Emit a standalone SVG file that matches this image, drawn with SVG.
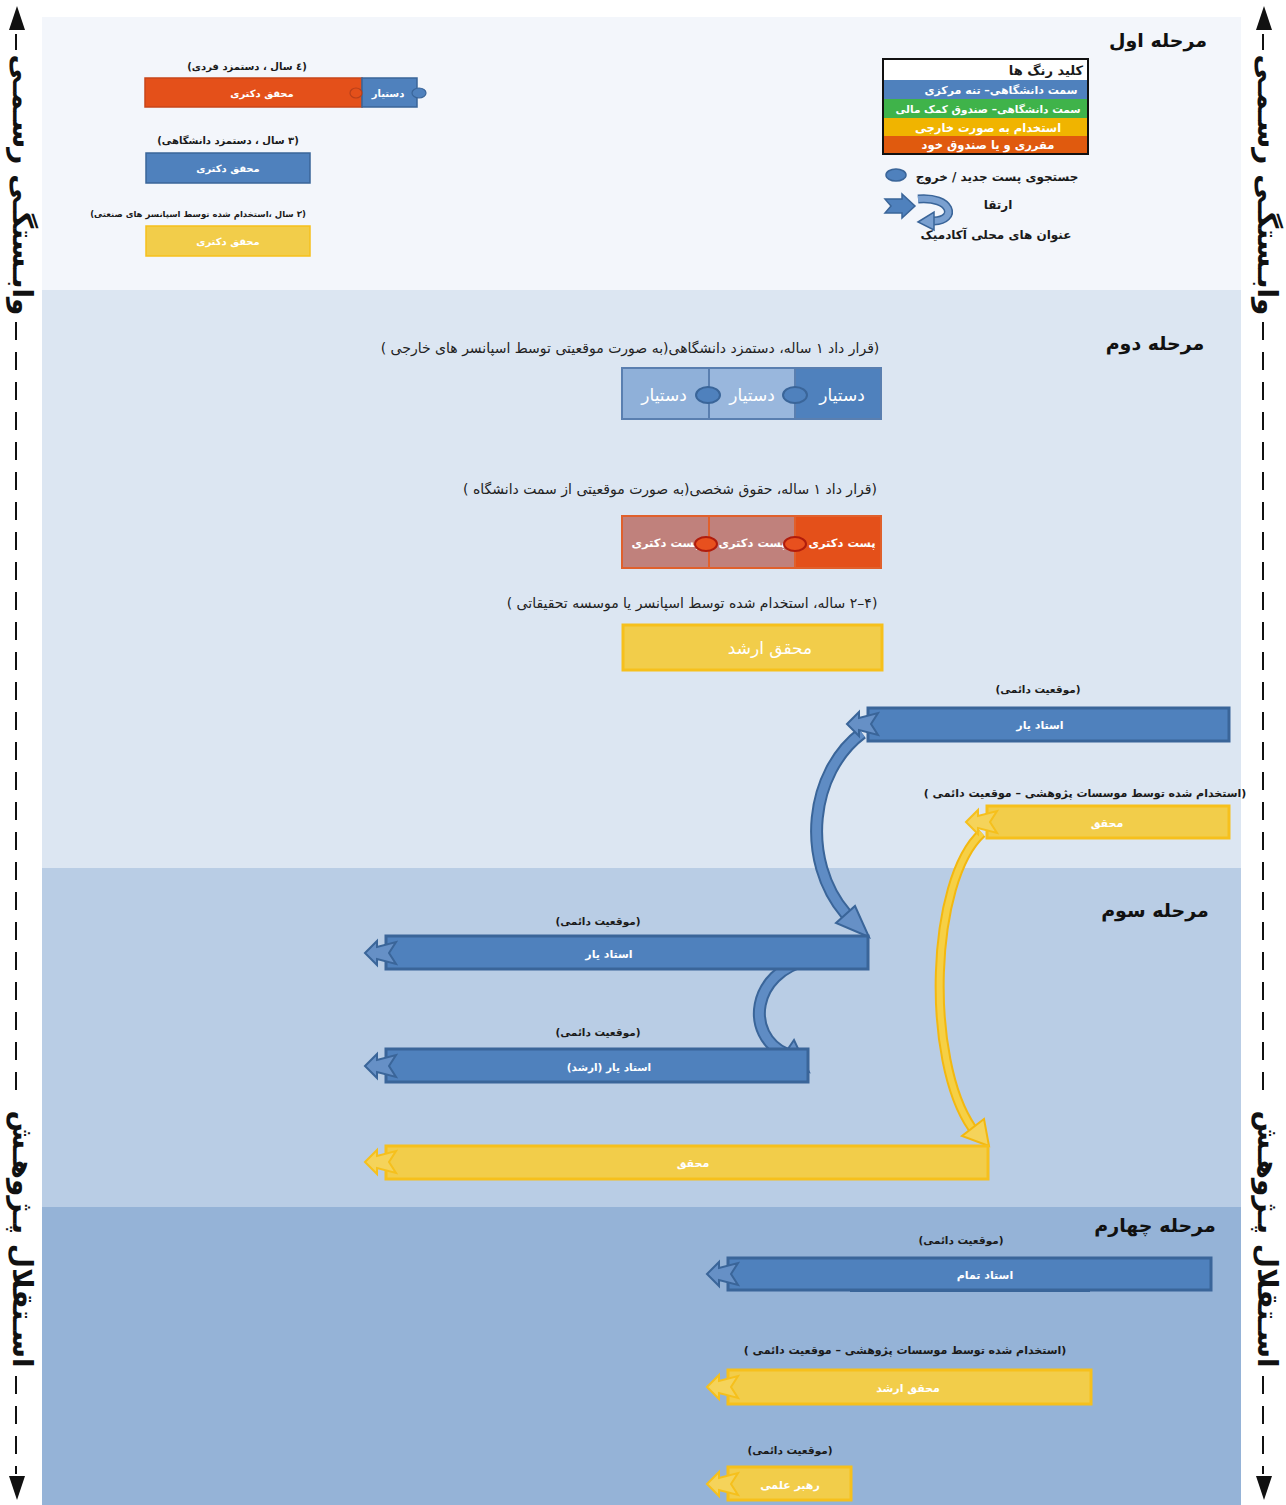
<svg xmlns="http://www.w3.org/2000/svg" width="1286" height="1505" viewBox="0 0 1286 1505">
<style>
text{font-family:"DejaVu Sans","Noto Sans",sans-serif;direction:rtl;text-anchor:middle}
.lb{font-weight:bold;font-size:10px;fill:#1a1a1a}
.lb2{font-size:14px;fill:#222}
.st{font-weight:bold;font-size:19px;fill:#111}
.wt{font-weight:bold;font-size:10px;fill:#fff}
.wt2{font-size:17px;fill:#fff}
.side{font-weight:bold;font-size:28px;fill:#111;dominant-baseline:central}
.bb{fill:#4f81bd;stroke:#3a6599;stroke-width:3}
.yb{fill:#f2cd4a;stroke:#f6c01c;stroke-width:3}
.dash{stroke:#111;stroke-width:2;stroke-dasharray:18 12;fill:none}
</style>
<defs>
<polygon id="ahB" points="-21,0 -9,-12 -9,-6 10,-11 3,0 10,11 -9,6 -9,12" fill="#6690c6" stroke="#3a6599" stroke-width="2"/>
<polygon id="ahY" points="-21,0 -9,-12 -9,-6 10,-11 3,0 10,11 -9,6 -9,12" fill="#f5d35a" stroke="#f6c01c" stroke-width="2"/>
</defs>
<rect width="1286" height="1505" fill="#ffffff"/>
<g id="panels">
<rect x="42" y="17" width="1199" height="273" fill="#f3f6fb"/>
<rect x="42" y="290" width="1199" height="578" fill="#dce6f2"/>
<rect x="42" y="868" width="1199" height="339" fill="#b9cde5"/>
<rect x="42" y="1207" width="1199" height="298" fill="#95b3d7"/>
</g>
<g id="side-left">
<polygon points="17,6 9,30 25,30" fill="#111"/>
<line class="dash" x1="16" y1="34" x2="16" y2="50"/>
<text class="side" transform="translate(22,185) rotate(90)">وابـستگـی رسـمـی</text>
<line class="dash" x1="16" y1="322" x2="16" y2="1098"/>
<text class="side" transform="translate(22,1239) rotate(90)">اسـتقلال پـژوهـش</text>
<line class="dash" x1="16" y1="1376" x2="16" y2="1474"/>
<polygon points="17,1500 9,1476 25,1476" fill="#111"/>
</g>
<g id="side-right">
<polygon points="1264,6 1256,30 1272,30" fill="#111"/>
<line class="dash" x1="1263" y1="34" x2="1263" y2="50"/>
<text class="side" transform="translate(1267,185) rotate(90)">وابـستگـی رسـمـی</text>
<line class="dash" x1="1263" y1="322" x2="1263" y2="1098"/>
<text class="side" transform="translate(1267,1239) rotate(90)">اسـتقلال پـژوهـش</text>
<line class="dash" x1="1263" y1="1376" x2="1263" y2="1474"/>
<polygon points="1264,1500 1256,1476 1272,1476" fill="#111"/>
</g>
<g id="stage-titles">
<text class="st" x="1158" y="47">مرحله اول</text>
<text class="st" x="1155" y="350">مرحله دوم</text>
<text class="st" x="1155" y="917">مرحله سوم</text>
<text class="st" x="1155" y="1232">مرحله چهارم</text>
</g>
<g id="connectors">
<path d="M862,733 C810,772 800,860 846,914" fill="none" stroke="#3a6599" stroke-width="13"/>
<path d="M862,733 C810,772 800,860 846,914" fill="none" stroke="#5f8cc4" stroke-width="9"/>
<polygon points="869,937 836,923 855,906" fill="#6690c6" stroke="#3a6599" stroke-width="2"/>
<path d="M808,960 C752,972 744,1035 786,1054" fill="none" stroke="#3a6599" stroke-width="13"/>
<path d="M808,960 C752,972 744,1035 786,1054" fill="none" stroke="#5f8cc4" stroke-width="9"/>
<polygon points="809,1072 777,1065 794,1040" fill="#6690c6" stroke="#3a6599" stroke-width="2"/>
<path d="M982,833 C930,880 925,1060 972,1128" fill="none" stroke="#f3b810" stroke-width="10"/>
<path d="M982,833 C930,880 925,1060 972,1128" fill="none" stroke="#f6d045" stroke-width="6"/>
<polygon points="989,1146 962,1136 984,1119" fill="#f5d35a" stroke="#f3b810" stroke-width="2"/>
</g>
<g id="s1-a">
<text class="lb" x="247" y="70">(٤ سال ، دستمزد فردی)</text>
<rect x="145" y="78" width="217" height="29" fill="#e4501a" stroke="#c8451a" stroke-width="1.5"/>
<text class="wt" x="262" y="97">محقق دکتری</text>
<rect x="362" y="78" width="55" height="29" fill="#4f81bd" stroke="#3a6599" stroke-width="1.5"/>
<text class="wt" x="388" y="97">دستیار</text>
<ellipse cx="356" cy="93" rx="6" ry="5" fill="#e4501a" stroke="#b8401a" stroke-width="1.2"/>
<ellipse cx="419" cy="93" rx="7" ry="5" fill="#4f81bd" stroke="#3a6599" stroke-width="1.2"/>
</g>
<g id="s1-b">
<text class="lb" x="228" y="144">(٣ سال ، دستمزد دانشگاهی)</text>
<rect x="146" y="153" width="164" height="30" fill="#4f81bd" stroke="#3a6599" stroke-width="1.5"/>
<text class="wt" x="228" y="172">محقق دکتری</text>
</g>
<g id="s1-c">
<text class="lb" x="198" y="217" style="font-size:8.5px">(٣ سال ،استخدام شده توسط اسپانسر های صنعتی)</text>
<rect x="146" y="226" width="164" height="30" fill="#f2cd4a" stroke="#f6c01c" stroke-width="1.5"/>
<text class="wt" x="228" y="245">محقق دکتری</text>
</g>
<g id="legend">
<rect x="883" y="59" width="205" height="95" fill="#fff"/>
<rect x="883" y="80" width="205" height="19" fill="#4f81bd"/>
<rect x="883" y="99" width="205" height="19" fill="#3fb34a"/>
<rect x="883" y="118" width="205" height="18" fill="#f0b400"/>
<rect x="883" y="136" width="205" height="18" fill="#e05a0e"/>
<rect x="883" y="59" width="205" height="95" fill="none" stroke="#111" stroke-width="2"/>
<text class="lb" x="1046" y="75" style="font-size:13px">کلید رنگ ها</text>
<text class="wt" x="1001" y="94" style="font-size:11px">سمت دانشگاهی– تنه مرکزی</text>
<text class="wt" x="988" y="113" style="font-size:10.5px">سمت دانشگاهی– صندوق کمک مالی</text>
<text class="wt" x="988" y="132" style="font-size:11.5px">استخدام به صورت خارجی</text>
<text class="wt" x="988" y="149" style="font-size:11.5px">مقرری و یا صندوق خود</text>
<ellipse cx="896" cy="175" rx="10" ry="6" fill="#4f81bd" stroke="#3a6599" stroke-width="1.5"/>
<text class="lb" x="997" y="181" style="font-size:12px">جستجوی پست جدید / خروج</text>
<polygon points="885,199 902,199 902,194 915,206 902,218 902,213 885,213 891,206" fill="#4f81bd" stroke="#3a6599" stroke-width="1.5"/>
<path d="M918,199 C952,196 958,220 934,221" fill="none" stroke="#3a6599" stroke-width="9"/>
<path d="M918,199 C952,196 958,220 934,221" fill="none" stroke="#7aa0d0" stroke-width="6"/>
<polygon points="918,222 934,212 934,230" fill="#7aa0d0" stroke="#3a6599" stroke-width="1.5"/>
<text class="lb" x="998" y="209" style="font-size:12px">ارتقا</text>
<text class="lb" x="996" y="239" style="font-size:12px">عنوان های محلی آکادمیک</text>
</g>
<g id="s2-a">
<text class="lb2" x="630" y="353">(قرار داد ۱ ساله، دستمزد دانشگاهی(به صورت موقعیتی توسط اسپانسر های خارجی )</text>
<rect x="622" y="368" width="87" height="51" fill="#8fb0d9" stroke="#5a7fb0" stroke-width="2"/>
<rect x="709" y="368" width="86" height="51" fill="#99b7dd" stroke="#5a7fb0" stroke-width="2"/>
<rect x="795" y="368" width="86" height="51" fill="#4f81bd" stroke="#5a7fb0" stroke-width="2"/>
<text class="wt2" x="664" y="401">دستیار</text>
<text class="wt2" x="752" y="401">دستیار</text>
<text class="wt2" x="842" y="401">دستیار</text>
<ellipse cx="708" cy="395" rx="12" ry="8" fill="#4f81bd" stroke="#3a6599" stroke-width="2"/>
<ellipse cx="795" cy="395" rx="12" ry="8" fill="#4f81bd" stroke="#3a6599" stroke-width="2"/>
</g>
<g id="s2-b">
<text class="lb2" x="670" y="494">(قرار داد ۱ ساله، حقوق شخصی(به صورت موقعیتی از سمت دانشگاه )</text>
<rect x="622" y="516" width="87" height="52" fill="#c0817c" stroke="#e0602c" stroke-width="2"/>
<rect x="709" y="516" width="86" height="52" fill="#c0817c" stroke="#e0602c" stroke-width="2"/>
<rect x="795" y="516" width="86" height="52" fill="#e4501a" stroke="#e0602c" stroke-width="2"/>
<text class="wt" x="665" y="547" style="font-size:11.5px">پست دکتری</text>
<text class="wt" x="752" y="547" style="font-size:11.5px">پست دکتری</text>
<text class="wt" x="842" y="547" style="font-size:11.5px">پست دکتری</text>
<ellipse cx="706" cy="544" rx="11" ry="7" fill="#e8501e" stroke="#b01c0c" stroke-width="2"/>
<ellipse cx="795" cy="544" rx="11" ry="7" fill="#e8501e" stroke="#b01c0c" stroke-width="2"/>
</g>
<g id="s2-c">
<text class="lb2" x="692" y="608">(۴–۲ ساله، استخدام شده توسط اسپانسر یا موسسه تحقیقاتی )</text>
<rect x="623" y="625" width="259" height="45" class="yb" stroke-width="2"/>
<text class="wt2" x="770" y="654">محقق ارشد</text>
</g>
<g id="s2-d">
<text class="lb" x="1038" y="693" style="font-size:10.5px">(موقعیت دائمی)</text>
<rect x="868" y="708" width="361" height="33" class="bb"/>
<use href="#ahB" x="868" y="724"/>
<text class="wt" x="1040" y="729" style="font-size:11px">استاد یار</text>
</g>
<g id="s2-e">
<text class="lb" x="1085" y="797" style="font-size:11px">(استخدام شده توسط موسسات پژوهشی – موقعیت دائمی )</text>
<rect x="987" y="806" width="242" height="32" class="yb"/>
<use href="#ahY" x="987" y="822"/>
<text class="wt" x="1107" y="827" style="font-size:11px">محقق</text>
</g>
<g id="s3-a">
<text class="lb" x="598" y="925" style="font-size:10.5px">(موقعیت دائمی)</text>
<rect x="386" y="936" width="482" height="33" class="bb"/>
<use href="#ahB" x="386" y="953"/>
<text class="wt" x="609" y="958" style="font-size:11px">استاد یار</text>
</g>
<g id="s3-b">
<text class="lb" x="598" y="1036" style="font-size:10.5px">(موقعیت دائمی)</text>
<rect x="386" y="1049" width="422" height="33" class="bb"/>
<use href="#ahB" x="386" y="1066"/>
<text class="wt" x="609" y="1071" style="font-size:10.5px">استاد یار (ارشد)</text>
</g>
<g id="s3-c">
<rect x="386" y="1146" width="602" height="33" class="yb"/>
<use href="#ahY" x="386" y="1162"/>
<text class="wt" x="693" y="1167" style="font-size:11px">محقق</text>
</g>
<g id="s4-a">
<text class="lb" x="961" y="1244" style="font-size:10.5px">(موقعیت دائمی)</text>
<rect x="728" y="1258" width="483" height="32" class="bb"/>
<line x1="850" y1="1291" x2="1090" y2="1291" stroke="#3a6599" stroke-width="2"/>
<use href="#ahB" x="728" y="1274"/>
<text class="wt" x="985" y="1279" style="font-size:11px">استاد تمام</text>
</g>
<g id="s4-b">
<text class="lb" x="905" y="1354" style="font-size:11px">(استخدام شده توسط موسسات پژوهشی – موقعیت دائمی )</text>
<rect x="728" y="1370" width="363" height="34" class="yb"/>
<use href="#ahY" x="728" y="1387"/>
<text class="wt" x="908" y="1392" style="font-size:11px">محقق ارشد</text>
</g>
<g id="s4-c">
<text class="lb" x="790" y="1454" style="font-size:10.5px">(موقعیت دائمی)</text>
<rect x="728" y="1467" width="123" height="33" class="yb"/>
<use href="#ahY" x="728" y="1484"/>
<text class="wt" x="790" y="1489" style="font-size:11px">رهبر علمی</text>
</g>
</svg>
